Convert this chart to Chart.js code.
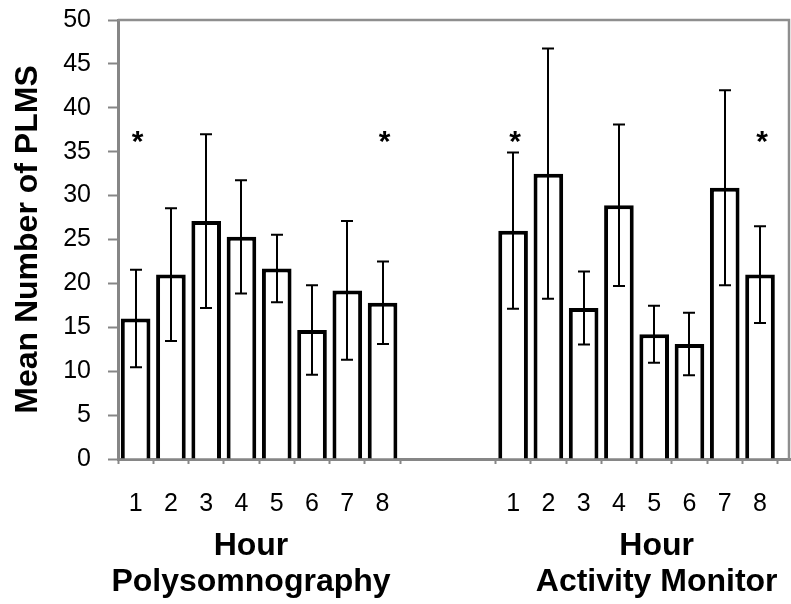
<!DOCTYPE html>
<html>
<head>
<meta charset="utf-8">
<title>Mean Number of PLMS by Hour</title>
<script src="https://cdn.jsdelivr.net/npm/chart.js@4.4.0/dist/chart.umd.min.js"></script>
<style>
  html, body { margin: 0; padding: 0; background: #fff; }
  #wrap { width: 791px; height: 604px; position: relative; }
</style>
</head>
<body>
<div id="wrap"><canvas id="plms"></canvas></div>
<script>
// hour of the night (x labels, same for both recordings)
const hours = ['1', '2', '3', '4', '5', '6', '7', '8'];

// polysomnography: mean PLMS per hour and +/- error
const psgMean = [16.0, 21.0, 27.1, 25.3, 21.7, 14.7, 19.2, 17.8];
const psgErr = [5.55, 7.55, 9.9, 6.45, 3.85, 5.1, 7.9, 4.7];

// activity monitor: mean PLMS per hour and +/- error
const amMean = [26.0, 32.5, 17.2, 28.9, 14.2, 13.1, 30.9, 21.0];
const amErr = [8.9, 14.25, 4.15, 9.2, 3.25, 3.55, 11.1, 5.5];

// hours flagged with an asterisk, and the height the asterisk sits at
const psgStars = [0, 7];
const amStars = [0, 7];
const starLevel = 36.7;

// group titles under the axis
const psgTitle = ['Hour', 'Polysomnography'];
const amTitle = ['Hour', 'Activity Monitor'];

// x layout in "hour" units: each group is 8 wide, with a gap between them
const PSG_START = 0;
const AM_START = 10.7;
const X_MAX = 19.05;

const FONT = '"Liberation Sans", Arial, Helvetica, sans-serif';
const AXIS_GRAY = '#868686';

function barPoints(start, values) {
  return values.map((v, i) => ({ x: start + i + 0.5, y: v }));
}

// tick list for the x axis: boundaries carry a tick mark, centres carry the hour
function xTickList() {
  const list = [];
  [PSG_START, AM_START].forEach(start => {
    for (let i = 0; i <= hours.length; i++) {
      list.push({ value: start + i, boundary: true, hour: '' });
      if (i < hours.length) list.push({ value: start + i + 0.5, boundary: false, hour: hours[i] });
    }
  });
  return list;
}

const errorBars = {
  id: 'errorBars',
  afterDatasetsDraw(chart) {
    const y = chart.scales.y;
    const ctx = chart.ctx;
    ctx.save();
    ctx.strokeStyle = '#000';
    ctx.lineWidth = 2;
    chart.data.datasets.forEach((ds, di) => {
      const meta = chart.getDatasetMeta(di);
      meta.data.forEach((bar, i) => {
        const m = ds.data[i].y;
        const e = ds.errors[i];
        const top = y.getPixelForValue(m + e);
        const bot = y.getPixelForValue(m - e);
        const x = Math.round(bar.x);
        ctx.beginPath();
        ctx.moveTo(x, top); ctx.lineTo(x, bot);
        ctx.moveTo(x - 6, top); ctx.lineTo(x + 6, top);
        ctx.moveTo(x - 6, bot); ctx.lineTo(x + 6, bot);
        ctx.stroke();
      });
      // significance asterisks
      ctx.fillStyle = '#000';
      ctx.font = 'bold 30px ' + FONT;
      ctx.textAlign = 'center';
      ctx.textBaseline = 'alphabetic';
      const sy = y.getPixelForValue(starLevel);
      ds.stars.forEach(i => {
        ctx.fillText('*', meta.data[i].x + 2, sy + 14);
      });
    });
    ctx.restore();
  }
};

const plotFrame = {
  id: 'plotFrame',
  afterDraw(chart) {
    const { top, right, left, bottom } = chart.chartArea;
    const ctx = chart.ctx;
    ctx.save();
    ctx.strokeStyle = '#8e8e8e';
    ctx.lineWidth = 2.5;
    ctx.beginPath();
    ctx.moveTo(left, top);
    ctx.lineTo(right - 1, top);
    ctx.lineTo(right - 1, bottom);
    ctx.stroke();
    ctx.restore();
  }
};

const groupTitles = {
  id: 'groupTitles',
  afterDraw(chart) {
    const x = chart.scales.x;
    const base = chart.chartArea.bottom;
    const ctx = chart.ctx;
    ctx.save();
    ctx.fillStyle = '#000';
    ctx.font = 'bold 32px ' + FONT;
    ctx.textAlign = 'center';
    ctx.textBaseline = 'middle';
    [[psgTitle, 3.77], [amTitle, AM_START + 4.57]].forEach(([lines, c]) => {
      const cx = x.getPixelForValue(c);
      lines.forEach((t, k) => ctx.fillText(t, cx, base + 87 + k * 36));
    });
    ctx.restore();
  }
};

const barStyle = {
  backgroundColor: '#fff',
  borderColor: '#000',
  borderWidth: 4,
  borderSkipped: 'start'
};

new Chart(document.getElementById('plms'), {
  type: 'bar',
  data: {
    datasets: [
      Object.assign({ label: 'Polysomnography', data: barPoints(PSG_START, psgMean), errors: psgErr, stars: psgStars }, barStyle),
      Object.assign({ label: 'Activity Monitor', data: barPoints(AM_START, amMean), errors: amErr, stars: amStars }, barStyle)
    ]
  },
  options: {
    responsive: true,
    maintainAspectRatio: false,
    animation: false,
    devicePixelRatio: 1,
    layout: { padding: { top: 20, right: 1, bottom: 0, left: 0 } },
    datasets: {
      bar: {
        grouped: false,
        categoryPercentage: 1,
        // the half-hour ticks set the bar ruler, so this is ~0.84 of an hour
        barPercentage: 1.68
      }
    },
    plugins: {
      legend: { display: false },
      tooltip: { enabled: false },
      colors: { enabled: false }
    },
    scales: {
      x: {
        type: 'linear',
        min: 0,
        max: X_MAX,
        offset: false,
        afterBuildTicks(scale) { scale.ticks = xTickList(); },
        afterFit(scale) {
          scale.height = 145;
          scale.paddingLeft = 0;
          scale.paddingRight = 0;
        },
        ticks: {
          autoSkip: false,
          maxRotation: 0,
          padding: 25,
          color: '#000',
          font: { family: FONT, size: 25 },
          callback: (v, i, ticks) => ticks[i].hour
        },
        grid: {
          offset: false,
          drawOnChartArea: false,
          tickLength: 5,
          tickWidth: 2,
          tickColor: c => (c.tick && c.tick.boundary ? AXIS_GRAY : 'rgba(0,0,0,0)')
        },
        border: { color: AXIS_GRAY, width: 3 }
      },
      y: {
        min: 0,
        max: 50,
        afterFit(scale) {
          scale.width = 118;
          scale.paddingTop = 0;
          scale.paddingBottom = 0;
        },
        ticks: {
          stepSize: 5,
          padding: 17,
          color: '#000',
          font: { family: FONT, size: 25 }
        },
        grid: {
          drawOnChartArea: false,
          tickLength: 10,
          tickWidth: 2,
          tickColor: AXIS_GRAY
        },
        border: { color: AXIS_GRAY, width: 3 },
        title: {
          display: true,
          text: 'Mean Number of PLMS',
          color: '#000',
          font: { family: FONT, size: 32, weight: 'bold' },
          padding: { top: 9, bottom: 0 }
        }
      }
    }
  },
  plugins: [errorBars, plotFrame, groupTitles]
});
</script>
</body>
</html>
